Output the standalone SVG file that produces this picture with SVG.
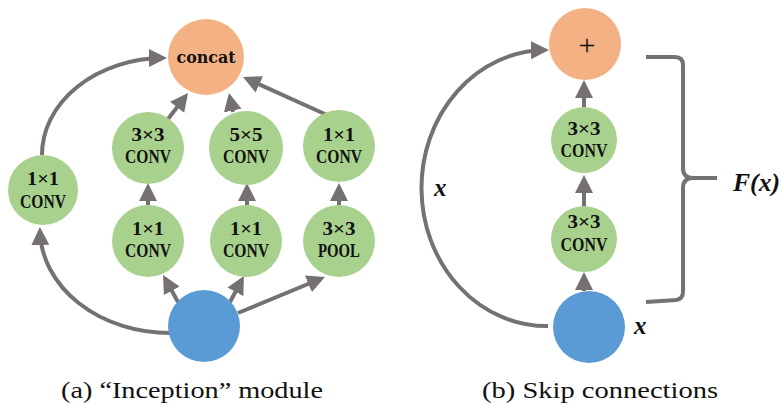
<svg xmlns="http://www.w3.org/2000/svg" width="782" height="406" viewBox="0 0 782 406">
<style>
.orange{fill:#F4B183}
.green{fill:#A9D18E}
.blue{fill:#5B9BD5}
.edge{fill:none;stroke:#767171;stroke-width:4;marker-end:url(#ah)}
.brace{fill:none;stroke:#767171;stroke-width:4}
.lbl{font-family:"Liberation Serif",serif;font-weight:bold;font-size:18.5px;text-anchor:middle;fill:#111}
.math{font-family:"Liberation Serif",serif;font-weight:bold;font-style:italic;font-size:25px;fill:#111}
.cap{font-family:"Liberation Serif",serif;font-size:23px;fill:#111}
</style>
<defs>
<marker id="ah" markerUnits="userSpaceOnUse" markerWidth="20" markerHeight="20" viewBox="0 0 20 20" refX="14" refY="10" orient="auto">
<path d="M0,1 L18,10 L0,19 z" fill="#767171"/>
</marker>
</defs>
<g id="connectors">
<path class="edge" d="M42 155 A122 97 0 0 1 163 58"/>
<path class="edge" d="M170 333 A130 104 0 0 1 40 231"/>
<path class="edge" d="M178 302 L165 278.5"/>
<path class="edge" d="M230 302 L242 279.5"/>
<path class="edge" d="M238 313 L321.3 278.5"/>
<path class="edge" d="M148 205 L148 187"/>
<path class="edge" d="M247 205 L247 187"/>
<path class="edge" d="M339 205 L339 187"/>
<path class="edge" d="M168 119 L185.6 96.2"/>
<path class="edge" d="M233 112 L229.8 96.9"/>
<path class="edge" d="M327 115 L246.6 78.6"/>
<path class="edge" d="M584 291 L584 276"/>
<path class="edge" d="M584 207 L584 179"/>
<path class="edge" d="M584 107 L584 84"/>
<path class="edge" d="M548 326 A125 138 0 0 1 545 50"/>
<path class="brace" d="M646 57 L675 57 Q683 57 683 65 L683 168 Q683 178 693 178 L717 178 M693 178 Q683 178 683 188 L683 292 Q683 299 676 300 L646 302"/>
</g>
<g id="concat"><circle class="orange" cx="206" cy="57" r="38"/><text x="206" y="63" textLength="59" lengthAdjust="spacingAndGlyphs" style="font-family:'DejaVu Serif',serif;font-weight:bold;font-size:16.5px;text-anchor:middle;fill:#111">concat</text></g>
<g id="conv1x1_left"><circle class="green" cx="43" cy="190" r="35"/><text class="lbl" x="43" y="185" textLength="32" lengthAdjust="spacingAndGlyphs">1×1</text><text class="lbl" x="43" y="208" textLength="46" lengthAdjust="spacingAndGlyphs">CONV</text></g>
<g id="conv3x3_a"><circle class="green" cx="148" cy="148" r="36"/><text class="lbl" x="148" y="141" textLength="33" lengthAdjust="spacingAndGlyphs">3×3</text><text class="lbl" x="148" y="163" textLength="46" lengthAdjust="spacingAndGlyphs">CONV</text></g>
<g id="conv5x5_a"><circle class="green" cx="246" cy="148" r="37"/><text class="lbl" x="246" y="141" textLength="33" lengthAdjust="spacingAndGlyphs">5×5</text><text class="lbl" x="246" y="163" textLength="46" lengthAdjust="spacingAndGlyphs">CONV</text></g>
<g id="conv1x1_top_right"><circle class="green" cx="339" cy="146" r="36"/><text class="lbl" x="339" y="141" textLength="32" lengthAdjust="spacingAndGlyphs">1×1</text><text class="lbl" x="339" y="163" textLength="46" lengthAdjust="spacingAndGlyphs">CONV</text></g>
<g id="conv1x1_b1"><circle class="green" cx="148" cy="241" r="36"/><text class="lbl" x="148" y="235" textLength="32" lengthAdjust="spacingAndGlyphs">1×1</text><text class="lbl" x="148" y="257" textLength="46" lengthAdjust="spacingAndGlyphs">CONV</text></g>
<g id="conv1x1_b2"><circle class="green" cx="246" cy="241" r="36"/><text class="lbl" x="246" y="235" textLength="32" lengthAdjust="spacingAndGlyphs">1×1</text><text class="lbl" x="246" y="257" textLength="46" lengthAdjust="spacingAndGlyphs">CONV</text></g>
<g id="pool3x3"><circle class="green" cx="339" cy="241" r="36"/><text class="lbl" x="339" y="235" textLength="33" lengthAdjust="spacingAndGlyphs">3×3</text><text class="lbl" x="339" y="257" textLength="42" lengthAdjust="spacingAndGlyphs">POOL</text></g>
<g id="input_a"><circle class="blue" cx="204" cy="326" r="36"/></g>
<g id="plus"><circle class="orange" cx="585" cy="44" r="36"/><text x="587" y="55" style="font-family:'Liberation Serif',serif;font-size:30px;text-anchor:middle;fill:#111">+</text></g>
<g id="conv3x3_b1"><circle class="green" cx="584" cy="140" r="33"/><text class="lbl" x="584" y="135" textLength="33" lengthAdjust="spacingAndGlyphs">3×3</text><text class="lbl" x="584" y="157" textLength="47" lengthAdjust="spacingAndGlyphs">CONV</text></g>
<g id="conv3x3_b2"><circle class="green" cx="584" cy="239" r="33"/><text class="lbl" x="584" y="228" textLength="33" lengthAdjust="spacingAndGlyphs">3×3</text><text class="lbl" x="584" y="251" textLength="47" lengthAdjust="spacingAndGlyphs">CONV</text></g>
<g id="input_b"><circle class="blue" cx="589" cy="327" r="36"/></g>
<text class="math" x="434" y="196">x</text>
<text class="math" x="634" y="334">x</text>
<text class="math" x="733" y="191" textLength="47" lengthAdjust="spacingAndGlyphs">F(x)</text>
<text class="cap" x="61" y="398" textLength="262" lengthAdjust="spacingAndGlyphs">(a) “Inception” module</text>
<text class="cap" x="482" y="398" textLength="236" lengthAdjust="spacingAndGlyphs">(b) Skip connections</text>
</svg>
